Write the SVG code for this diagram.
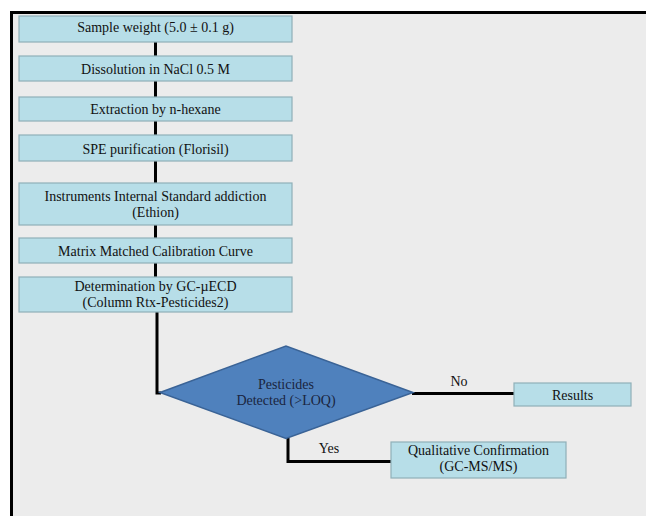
<svg xmlns="http://www.w3.org/2000/svg" width="646" height="516" viewBox="0 0 646 516">
<style>
.box{fill:#b7dee8;stroke:#8fb0b8;stroke-width:1.2}
.t{font-family:"Liberation Serif","Times New Roman",serif;font-size:14px;fill:#111;text-anchor:middle}
.dt{font-family:"Liberation Serif","Times New Roman",serif;font-size:14px;fill:#1a2540;text-anchor:middle}
.c{fill:none;stroke:#000;stroke-width:3}
</style>
<rect x="0" y="0" width="646" height="516" fill="#ececec"/>
<rect x="0" y="0" width="646" height="11" fill="#ffffff"/>
<rect x="0" y="11" width="10" height="505" fill="#ffffff"/>
<path d="M11.5 516 V12.5 H646" fill="none" stroke="#000" stroke-width="3"/>
<g id="connectors">
<line class="c" x1="155.5" y1="42" x2="155.5" y2="56"/>
<line class="c" x1="155.5" y1="81" x2="155.5" y2="97"/>
<line class="c" x1="155.5" y1="121" x2="155.5" y2="135"/>
<line class="c" x1="155.5" y1="161" x2="155.5" y2="183"/>
<line class="c" x1="155.5" y1="225" x2="155.5" y2="238"/>
<line class="c" x1="155.5" y1="263" x2="155.5" y2="277"/>
<polyline class="c" points="157,312 157,393 161,393"/>
<line class="c" x1="412" y1="393.5" x2="514" y2="393.5"/>
<polyline class="c" points="288,438 288,461.5 391,461.5"/>
<text class="t" x="459" y="386">No</text>
<text class="t" x="329" y="453">Yes</text>
</g>
<g id="n1"><rect class="box" x="19" y="16" width="273" height="26"/><text class="t" x="155.5" y="32">Sample weight (5.0 ± 0.1 g)</text></g>
<g id="n2"><rect class="box" x="19" y="56" width="273" height="25"/><text class="t" x="155.5" y="74">Dissolution in NaCl 0.5 M</text></g>
<g id="n3"><rect class="box" x="19" y="97" width="273" height="24"/><text class="t" x="155.5" y="114">Extraction by n-hexane</text></g>
<g id="n4"><rect class="box" x="19" y="135" width="273" height="26"/><text class="t" x="155.5" y="153.5">SPE purification (Florisil)</text></g>
<g id="n5"><rect class="box" x="19" y="183" width="273" height="42"/><text class="t" x="155.5" y="200.5">Instruments Internal Standard addiction</text><text class="t" x="155.5" y="216.5">(Ethion)</text></g>
<g id="n6"><rect class="box" x="19" y="238" width="273" height="25"/><text class="t" x="155.5" y="256">Matrix Matched Calibration Curve</text></g>
<g id="n7"><rect class="box" x="19" y="277" width="273" height="35"/><text class="t" x="155.5" y="290.5">Determination by GC-µECD</text><text class="t" x="155.5" y="306.5">(Column Rtx-Pesticides2)</text></g>
<g id="decision"><polygon points="160,392.5 286,346 413,392.5 286,438.5" fill="#4f81bd" stroke="#3a6396" stroke-width="1.5"/><text class="dt" x="286" y="389">Pesticides</text><text class="dt" x="286" y="405">Detected (&gt;LOQ)</text></g>
<g id="results"><rect class="box" x="514" y="383" width="117" height="23"/><text class="t" x="572.5" y="399.5">Results</text></g>
<g id="confirm"><rect class="box" x="391" y="442" width="175" height="36"/><text class="t" x="478.5" y="455">Qualitative Confirmation</text><text class="t" x="478.5" y="471">(GC-MS/MS)</text></g>
</svg>
